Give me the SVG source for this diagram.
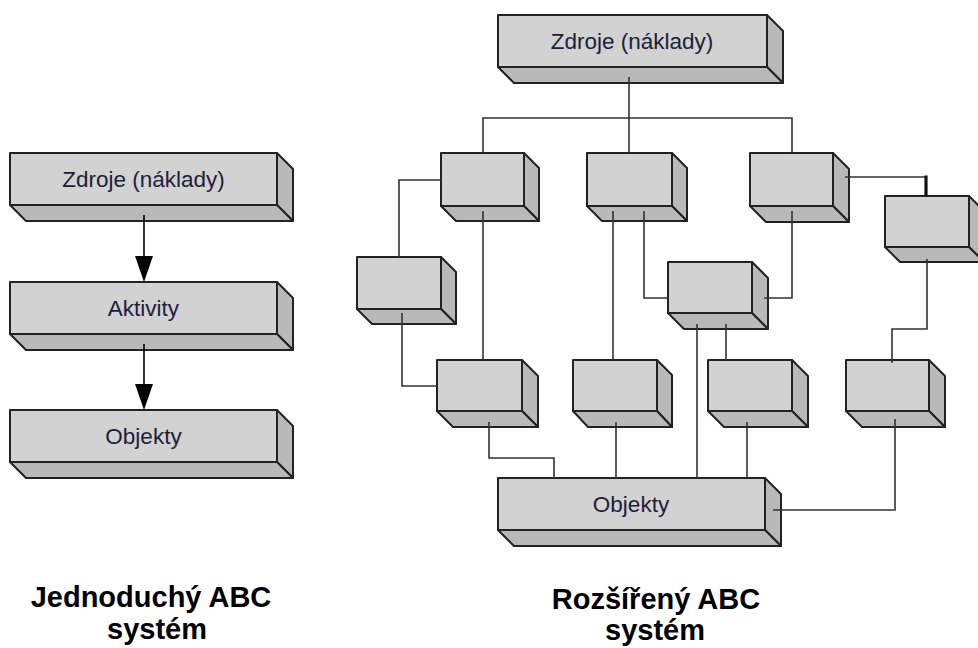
<svg xmlns="http://www.w3.org/2000/svg" width="978" height="648" viewBox="0 0 978 648">
<style>
.front{fill:#d2d2d2;stroke:#222;stroke-width:2;stroke-linejoin:round}
.side{fill:#b9b9b9;stroke:#222;stroke-width:2;stroke-linejoin:round}
.lbl{font-family:"Liberation Sans",Arial,sans-serif;font-size:22.5px;fill:#20203a;text-anchor:middle}
.cap{font-family:"Liberation Sans",Arial,sans-serif;font-size:29px;font-weight:bold;fill:#000;text-anchor:middle}
.con{fill:none;stroke:#333;stroke-width:1.6}
</style>
<rect width="978" height="648" fill="#fff"/>
<g id="left-zdroje">
<polygon class="side" points="277,153 293,169 293,221 277,205"/>
<polygon class="side" points="10,205 277,205 293,221 26,221"/>
<rect class="front" x="10" y="153" width="267" height="52"/>
<text class="lbl" x="143.5" y="187">Zdroje (náklady)</text>
</g>
<g id="left-aktivity">
<polygon class="side" points="277,282 293,298 293,350 277,334"/>
<polygon class="side" points="10,334 277,334 293,350 26,350"/>
<rect class="front" x="10" y="282" width="267" height="52"/>
<text class="lbl" x="143.5" y="316">Aktivity</text>
</g>
<g id="left-objekty">
<polygon class="side" points="277,410 293,426 293,478 277,462"/>
<polygon class="side" points="10,462 277,462 293,478 26,478"/>
<rect class="front" x="10" y="410" width="267" height="52"/>
<text class="lbl" x="143.5" y="444">Objekty</text>
</g>
<g id="left-arrows">
<line x1="144" y1="215" x2="144" y2="258" stroke="#000" stroke-width="1.6"/>
<polygon points="135,256 153,256 144,282" fill="#000"/>
<line x1="144" y1="344" x2="144" y2="386" stroke="#000" stroke-width="1.6"/>
<polygon points="135,384 153,384 144,410" fill="#000"/>
</g>
<g id="r-zdroje">
<polygon class="side" points="767,15 783,31 783,83 767,67"/>
<polygon class="side" points="498,67 767,67 783,83 514,83"/>
<rect class="front" x="498" y="15" width="269" height="52"/>
<text class="lbl" x="632" y="49">Zdroje (náklady)</text>
</g>
<g id="r-a">
<polygon class="side" points="524,153 539,168 539,221 524,206"/>
<polygon class="side" points="441,206 524,206 539,221 456,221"/>
<rect class="front" x="441" y="153" width="83" height="53"/>
</g>
<g id="r-b">
<polygon class="side" points="672,153 687,168 687,221 672,206"/>
<polygon class="side" points="587,206 672,206 687,221 602,221"/>
<rect class="front" x="587" y="153" width="85" height="53"/>
</g>
<g id="r-c">
<polygon class="side" points="833,153 849,169 849,222 833,206"/>
<polygon class="side" points="750,206 833,206 849,222 766,222"/>
<rect class="front" x="750" y="153" width="83" height="53"/>
</g>
<g id="r-d">
<polygon class="side" points="441,257 456,272 456,324 441,309"/>
<polygon class="side" points="357,309 441,309 456,324 372,324"/>
<rect class="front" x="357" y="257" width="84" height="52"/>
</g>
<g id="r-e">
<polygon class="side" points="752,262 768,278 768,329 752,313"/>
<polygon class="side" points="668,313 752,313 768,329 684,329"/>
<rect class="front" x="668" y="262" width="84" height="51"/>
</g>
<g id="r-f">
<polygon class="side" points="969,196 984,211 984,262 969,247"/>
<polygon class="side" points="885,247 969,247 984,262 900,262"/>
<rect class="front" x="885" y="196" width="84" height="51"/>
</g>
<g id="r-g">
<polygon class="side" points="522,360 538,376 538,427 522,411"/>
<polygon class="side" points="437,411 522,411 538,427 453,427"/>
<rect class="front" x="437" y="360" width="85" height="51"/>
</g>
<g id="r-h">
<polygon class="side" points="657,360 672,375 672,427 657,411"/>
<polygon class="side" points="573,411 657,411 672,427 588,427"/>
<rect class="front" x="573" y="360" width="84" height="51"/>
</g>
<g id="r-i">
<polygon class="side" points="792,360 808,376 808,427 792,411"/>
<polygon class="side" points="708,411 792,411 808,427 724,427"/>
<rect class="front" x="708" y="360" width="84" height="51"/>
</g>
<g id="r-j">
<polygon class="side" points="929,360 945,376 945,427 929,411"/>
<polygon class="side" points="846,411 929,411 945,427 862,427"/>
<rect class="front" x="846" y="360" width="83" height="51"/>
</g>
<g id="r-objekty">
<polygon class="side" points="765,478 781,494 781,546 765,530"/>
<polygon class="side" points="498,530 765,530 781,546 514,546"/>
<rect class="front" x="498" y="478" width="267" height="52"/>
<text class="lbl" x="631" y="512">Objekty</text>
</g>
<g id="connectors">
<path class="con" d="M629,77 V153"/>
<path class="con" d="M483,153 V118 H792 V153"/>
<path class="con" d="M441,180 H399 V257"/>
<path class="con" d="M402,313 V386 H437"/>
<path class="con" d="M483,211 V360"/>
<path class="con" d="M613,211 V360"/>
<path class="con" d="M644,211 V298 H668"/>
<path class="con" d="M845,177 H925"/>
<path d="M926,175.5 V196" stroke="#111" stroke-width="3.2" fill="none"/>
<path class="con" d="M792,211 V298 H764"/>
<path class="con" d="M697,324 V478"/>
<path class="con" d="M726,324 V360"/>
<path class="con" d="M927,259 V329 H892 V363"/>
<path class="con" d="M489,422 V458 H554 V478"/>
<path class="con" d="M616,422 V478"/>
<path class="con" d="M747,422 V478"/>
<path class="con" d="M895,419 V510 H773"/>
</g>
<g id="captions">
<text class="cap" x="151" y="607">Jednoduchý ABC</text>
<text class="cap" x="157" y="639">systém</text>
<text class="cap" x="656" y="609">Rozšířený ABC</text>
<text class="cap" x="655" y="640">systém</text>
</g>
</svg>
